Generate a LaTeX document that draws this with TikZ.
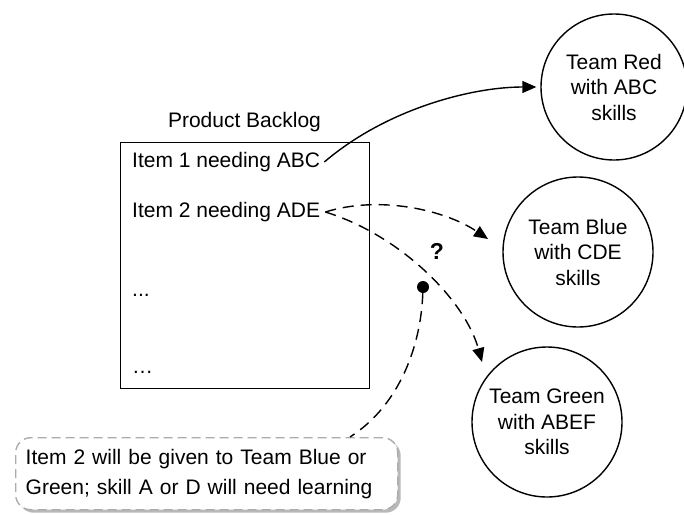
\documentclass[tikz,border=0pt]{standalone}
\usepackage{fontspec}
\setmainfont{Liberation Sans}
\usetikzlibrary{arrows.meta,shadows}
\begin{document}
\begin{tikzpicture}[x=1pt,y=-1pt,
  txt/.style={font=\fontsize{21}{25}\selectfont, inner sep=2pt},
  team/.style={circle,draw,line width=1.4pt,align=center,inner sep=0pt,font=\fontsize{21}{25.5}\selectfont},
  con/.style={line width=1.4pt,-{Triangle[length=14pt,width=12pt]}},
  dashcon/.style={con,dash pattern=on 11pt off 7pt},
  calloutbox/.style={draw=gray!65, line width=1.4pt, dash pattern=on 9pt off 5pt, rounded corners=15pt,
     fill=white, drop shadow={shadow xshift=3pt, shadow yshift=-3pt, fill=gray!55, opacity=1},
     align=left, inner xsep=10pt, inner ysep=0pt, text width=362pt, minimum height=72pt,
     font=\fontsize{21}{30}\selectfont},
]
\useasboundingbox (0,0) rectangle (684,514);

% backlog
\node (bl) [draw, line width=1.4pt, minimum width=249pt, minimum height=246pt, anchor=north west, inner sep=0pt] at (120,142) {};
\node (lbl) [txt] at (244.5,122) {Product Backlog};
\node (i1) [txt, anchor=west] at (130,162) {Item 1 needing ABC};
\node (i2) [txt, anchor=west] at (130,212) {Item 2 needing ADE};
\node (d1) [txt, anchor=west] at (130,295) {...};
\node (d2) [txt, anchor=west] at (130,372) {…};

% teams
\node (red) [team, minimum size=146pt] at (614,87) {Team Red\\with ABC\\skills};
\node (blue) [team, minimum size=150pt] at (578,252) {Team Blue\\with CDE\\skills};
\node (green) [team, minimum size=150pt] at (547,422) {Team Green\\with ABEF\\skills};

\coordinate (bt) at (488,239);
\coordinate (gt) at (482,362);

% arrows
\draw[con, shorten >=4pt] ([xshift=2pt]i1.east) .. controls (385,110) and (470,87) .. (red.west);
\draw[dashcon] ([xshift=3pt]i2.east) .. controls (380,195) and (445,210) .. (bt);
\draw[dashcon] ([xshift=3pt]i2.east) .. controls (400,235) and (465,300) .. (gt);

% question and dot
\node (q) [font=\fontsize{23}{25}\selectfont\bfseries] at (437,251) {?};
\node (dot) [circle, fill, inner sep=0pt, minimum size=12pt] at (423,287) {};

% callout
\node (call) [calloutbox, anchor=north west] at (15,437) {Item 2 will be given to Team Blue or\\Green; skill A or D will need learning};
\draw[line width=1.4pt, dash pattern=on 11pt off 7pt] (dot) .. controls (421,345) and (400,405) .. ([xshift=335pt]call.north west);
\end{tikzpicture}
\end{document}
